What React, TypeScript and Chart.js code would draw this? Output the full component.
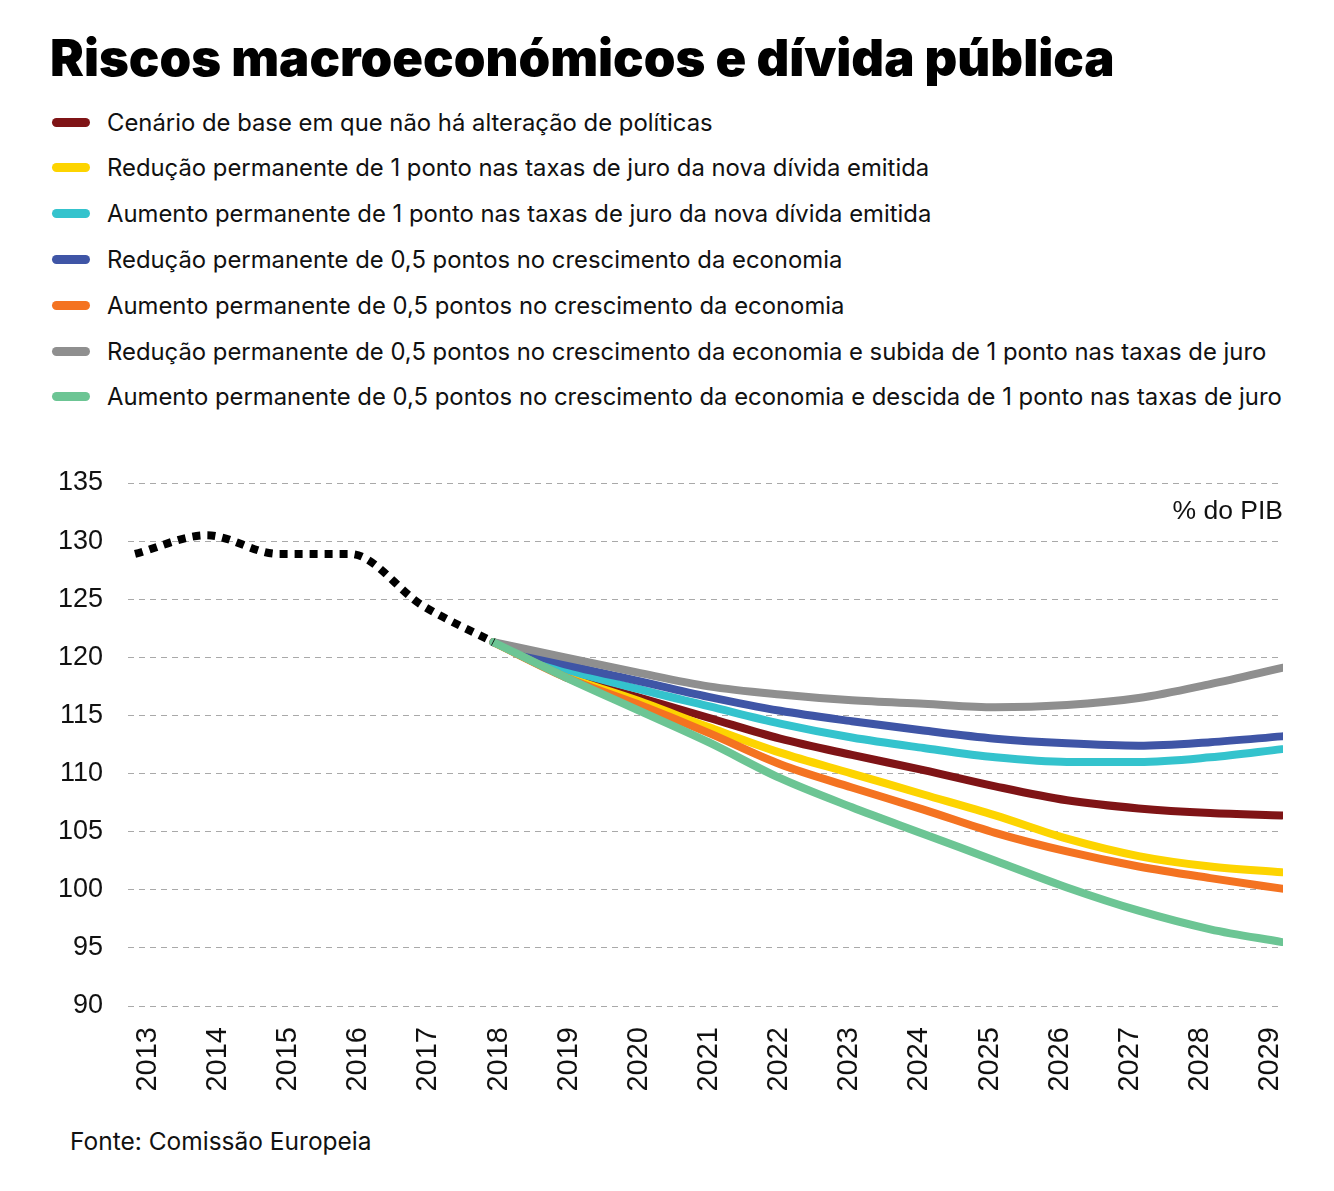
import React, { useEffect, useRef } from "react";
import { Chart, registerables } from "chart.js";

Chart.register(...registerables);

const titleText = "Riscos macroeconómicos e dívida pública";
const sourceText = "Fonte: Comissão Europeia";
const unitText = "% do PIB";

const years = [2013, 2014, 2015, 2016, 2017, 2018, 2019, 2020, 2021, 2022, 2023, 2024, 2025, 2026, 2027, 2028, 2029];

// Historical debt (dotted black), 2013-2018
const historical = [128.9, 130.5, 128.9, 128.9, 124.5, 121.3];

// Projections 2018-2029
const projYears = [2018, 2019, 2020, 2021, 2022, 2023, 2024, 2025, 2026, 2027, 2028, 2029];
const baseline = [null, 118.3, 116.6, 114.8, 113.0, 111.6, 110.3, 108.9, 107.7, 107.0, 106.6, 106.4];
const lowerRates = [121.3, 118.4, 116.3, 114.0, 111.8, 110.0, 108.2, 106.4, 104.4, 102.9, 102.0, 101.5];
const higherRates = [121.3, 119.0, 117.3, 115.8, 114.3, 113.1, 112.2, 111.4, 111.0, 111.0, 111.4, 112.1];
const lowerGrowth = [121.3, 119.4, 118.0, 116.6, 115.4, 114.5, 113.7, 113.0, 112.6, 112.4, 112.7, 113.2];
const higherGrowth = [121.3, 118.3, 116.0, 113.5, 110.8, 108.8, 106.9, 104.9, 103.3, 102.0, 101.0, 100.1];
const lowerGrowthHigherRates = [121.3, 120.0, 118.7, 117.5, 116.8, 116.3, 116.0, 115.7, 115.9, 116.5, 117.7, 119.1];
const higherGrowthLowerRates = [121.3, 118.3, 115.5, 112.7, 109.6, 107.1, 104.8, 102.5, 100.2, 98.2, 96.6, 95.5];

const seriesNames = [
  "Cenário de base em que não há alteração de políticas",
  "Redução permanente de 1 ponto nas taxas de juro da nova dívida emitida",
  "Aumento permanente de 1 ponto nas taxas de juro da nova dívida emitida",
  "Redução permanente de 0,5 pontos no crescimento da economia",
  "Aumento permanente de 0,5 pontos no crescimento da economia",
  "Redução permanente de 0,5 pontos no crescimento da economia e subida de 1 ponto nas taxas de juro",
  "Aumento permanente de 0,5 pontos no crescimento da economia e descida de 1 ponto nas taxas de juro",
];
const seriesValues = [baseline, lowerRates, higherRates, lowerGrowth, higherGrowth, lowerGrowthHigherRates, higherGrowthLowerRates];
const seriesColors = ["#7f1416", "#fdd400", "#34c3cd", "#3f55a6", "#f47321", "#8f8f8f", "#6cc594"];

const yTicks = [90, 95, 100, 105, 110, 115, 120, 125, 130, 135];

const yTickFont = { family: "'Liberation Sans', Arial, sans-serif", size: 27 };
const xTickFont = { family: "'Liberation Sans', Arial, sans-serif", size: 29 };

export default function App() {
  const canvasRef = useRef<HTMLCanvasElement | null>(null);

  useEffect(() => {
    const canvas = canvasRef.current;
    if (!canvas) return;

    const datasets: any[] = [
      {
        label: "Histórico",
        data: historical.map((v, i) => ({ x: years[i], y: v })),
        borderColor: "#000",
        borderWidth: 8,
        borderDash: [8, 7],
        borderCapStyle: "butt",
        pointRadius: 0,
        cubicInterpolationMode: "monotone",
        fill: false,
        order: -1,
      },
    ];
    seriesValues.forEach((vals, s) => {
      datasets.push({
        label: seriesNames[s],
        data: vals.map((v, i) => ({ x: projYears[i], y: v })),
        borderColor: seriesColors[s],
        borderWidth: 8,
        borderCapStyle: "round",
        borderJoinStyle: "round",
        pointRadius: 0,
        cubicInterpolationMode: "monotone",
        fill: false,
        order: seriesValues.length - 1 - s,
      });
    });

    const unitPlugin = {
      id: "unitLabel",
      afterDraw(chart: any) {
        const { ctx, chartArea, scales } = chart;
        ctx.save();
        ctx.font = "26.5px 'Liberation Sans', Arial, sans-serif";
        ctx.fillStyle = "#111";
        ctx.textAlign = "right";
        ctx.textBaseline = "middle";
        ctx.fillText(unitText, chartArea.right, scales.y.getPixelForValue(132.5));
        ctx.restore();
      },
    };

    const chart = new Chart(canvas, {
      type: "line",
      data: { datasets },
      plugins: [unitPlugin],
      options: {
        animation: false,
        responsive: false,
        devicePixelRatio: 1,
        layout: { padding: { left: 0, right: 51, top: 43, bottom: 0 } },
        plugins: { legend: { display: false }, tooltip: { enabled: false }, title: { display: false } },
        scales: {
          x: {
            type: "linear",
            min: 2012.902,
            max: 2029.014,
            display: false,
          },
          xl: {
            type: "linear",
            position: "bottom",
            min: 2012.715,
            max: 2029.185,
            grid: { display: false, drawTicks: false },
            border: { display: false },
            ticks: {
              stepSize: 1,
              autoSkip: false,
              includeBounds: false,
              minRotation: 90,
              maxRotation: 90,
              padding: 21,
              color: "#111",
              font: xTickFont,
              callback: (v: any) => (years.includes(Number(v)) ? String(v) : ""),
            },
            afterFit: (s: any) => {
              s.height = 100;
            },
          },
          y: {
            type: "linear",
            min: yTicks[0],
            max: yTicks[yTicks.length - 1],
            grid: { color: "#a9a9a9", lineWidth: 1, drawTicks: false },
            border: { display: false, dash: [6, 5] },
            ticks: {
              stepSize: 5,
              padding: 25,
              color: "#111",
              font: yTickFont,
              callback: (v: any) => String(v),
            },
            afterFit: (s: any) => {
              s.width = 128;
            },
          },
        },
      },
    });
    return () => chart.destroy();
  }, []);

  const legendFont = "Inter, 'Noto Sans', sans-serif";

  return (
    <div style={{ position: "absolute", left: 0, top: 0, width: 1334, height: 1191, background: "#fff", overflow: "hidden" }}>
      <div
        style={{
          position: "absolute",
          left: 50,
          top: 33,
          fontFamily: legendFont,
          fontWeight: 900,
          fontSize: 50.8,
          lineHeight: "50px",
          letterSpacing: "0px",
          color: "#000",
          whiteSpace: "nowrap",
        }}
      >
        {titleText}
      </div>
      {seriesNames.map((name, i) => (
        <div
          key={name}
          style={{
            position: "absolute",
            left: 52,
            top: 122 + i * 45.8 - 15,
            height: 30,
            display: "flex",
            alignItems: "center",
            whiteSpace: "nowrap",
          }}
        >
          <span style={{ display: "inline-block", width: 38, height: 9, borderRadius: 5, background: seriesColors[i], marginRight: 17 }} />
          <span style={{ fontFamily: legendFont, fontSize: 23.85, color: "#111" }}>{name}</span>
        </div>
      ))}
      <canvas ref={canvasRef} width={1334} height={666} style={{ position: "absolute", left: 0, top: 440, display: "block" }} />
      <div
        style={{
          position: "absolute",
          left: 70,
          top: 1127,
          fontFamily: legendFont,
          fontSize: 24.5,
          lineHeight: "28px",
          color: "#111",
          whiteSpace: "nowrap",
        }}
      >
        {sourceText}
      </div>
    </div>
  );
}
